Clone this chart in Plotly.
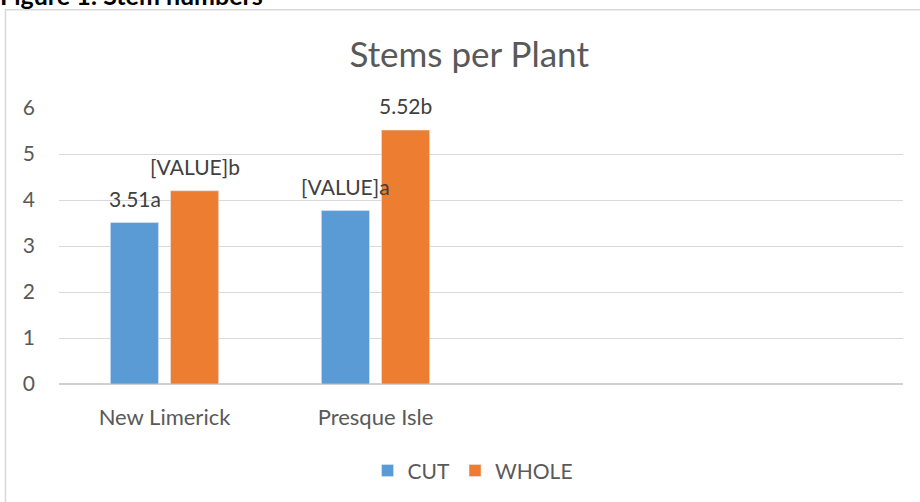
import plotly.graph_objects as go

FONT = "Lato, 'Open Sans', sans-serif"
GREY = "#595959"

categories = ["New Limerick", "Presque Isle"]
cut_values = [3.51, 3.77]
whole_values = [4.20, 5.52]
cut_labels = ["3.51a", "[VALUE]a"]
whole_labels = ["[VALUE]b", "5.52b"]
y_ticks = [0, 1, 2, 3, 4, 5, 6]

fig = go.Figure()

fig.add_trace(go.Bar(x=categories, y=cut_values, name="CUT", marker_color="#5b9bd5"))
fig.add_trace(go.Bar(x=categories, y=whole_values, name="WHOLE", marker_color="#ed7d31"))

# data labels sit a little above each bar, as in the Excel original
for cat, cv, cl, wv, wl in zip(categories, cut_values, cut_labels, whole_values, whole_labels):
    for val, lab, dx in ((cv, cl, -30), (wv, wl, 30)):
        fig.add_annotation(x=cat, y=val, text=lab, showarrow=False,
                           xshift=dx, yshift=10, yanchor="bottom",
                           font=dict(size=21, color="#404040", family=FONT))

# chart frame
fig.add_shape(type="rect", xref="paper", yref="paper",
              x0=-0.0634, x1=1.2, y0=-0.6, y1=1.356,
              line=dict(color="#d9d9d9", width=1.5), layer="below")

# caption cut off at the top of the picture
fig.add_annotation(text="<b>Figure 1: Stem numbers</b>", xref="paper", yref="paper",
                   x=-0.072, y=1.408, xanchor="left", yanchor="middle",
                   showarrow=False, font=dict(size=25, color="#000000", family=FONT))

fig.update_layout(
    width=920, height=502,
    margin=dict(l=59, r=17, t=108, b=117),
    paper_bgcolor="white", plot_bgcolor="white",
    font=dict(family=FONT, color=GREY),
    title=dict(text="Stems per Plant", x=0.51, xanchor="center", y=0.89, yanchor="middle",
               font=dict(size=35, color=GREY, family=FONT)),
    barmode="group", bargap=0.43, bargroupgap=0.2,
    showlegend=True,
    legend=dict(orientation="h", x=0.49, xanchor="center", y=-0.31, yanchor="middle",
                font=dict(size=21, color=GREY), itemwidth=30, traceorder="normal"),
    xaxis=dict(range=[-0.5, 3.5], showgrid=False, ticks="", automargin=False,
               tickfont=dict(size=22, color=GREY), showline=False, ticklabelstandoff=18),
    yaxis=dict(range=[0, 6], tickvals=y_ticks, gridcolor="#d9d9d9", gridwidth=1,
               zeroline=True, zerolinecolor="#d0d0d0", zerolinewidth=1.5, automargin=False,
               tickfont=dict(size=21, color=GREY), ticklabelstandoff=23),
)

# drop the default page margin so the figure sits at the window's corner
fig.write_html("out.html", config={"displayModeBar": False},
               post_script="document.body.style.margin = '0';")
